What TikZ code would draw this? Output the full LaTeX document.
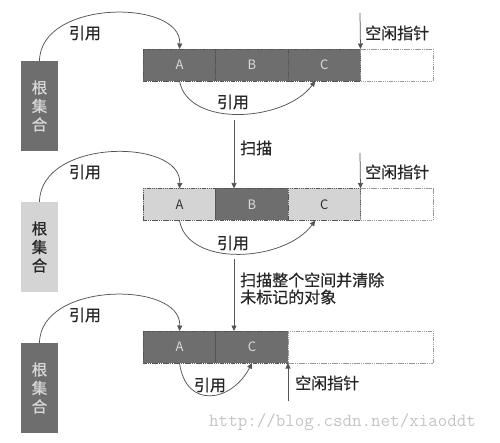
\documentclass[tikz,border=0pt]{standalone}
\usepackage{fontspec}
\setmainfont{Noto Sans CJK SC}
\newfontfamily\lblfont[FakeBold=0.6]{Noto Sans CJK SC}
\usetikzlibrary{arrows.meta,calc}
\definecolor{darkcell}{HTML}{6E6E6E}
\definecolor{lightcell}{HTML}{D4D4D4}
\definecolor{linegray}{HTML}{555555}
\definecolor{wmgray}{HTML}{C4C4C4}
\begin{document}
\begin{tikzpicture}[x=1pt,y=-1pt,
  cell/.style={draw=linegray, line width=0.6pt, dash pattern=on 1.5pt off 0.7pt,
    minimum width=72.5pt, minimum height=32pt, inner sep=0pt, outer sep=0pt,
    font=\fontsize{13}{13}\selectfont},
  darkc/.style={cell, fill=darkcell, text=white!85!black},
  lightc/.style={cell, fill=lightcell, text=black!80},
  emptyc/.style={cell, draw=gray!80, fill=white},
  rootbox/.style={minimum width=37pt, minimum height=90pt, inner sep=0pt, outer sep=0pt,
    align=center, font=\lblfont\fontsize{15.5}{18.5}\selectfont},
  link/.style={draw=linegray, line width=0.75pt, -{Triangle[length=5.5pt,width=5pt]}},
  lbl/.style={font=\lblfont\fontsize{16}{17}\selectfont, text=black!85, inner sep=0pt},
]
\useasboundingbox (0,0) rectangle (500,443);

% ---------- Row 1 ----------
\node[rootbox, fill=darkcell, text=white!85!black] (r1) at (39.5,106) {根\\集\\合};
\node[darkc] (a1) at (179.5,65) {A};
\node[darkc] (b1) at (252,65) {B};
\node[darkc] (c1) at (324.25,65) {C};
\node[emptyc] (e1) at (396.75,65) {};
\draw[link] (r1.north) .. controls (40,-1) and (182,-1) .. (a1.north);
\node[lbl] (l1) at (85,33) {引用};
\draw[link] (a1.south) .. controls (188,128) and (285,122) .. ([xshift=-9pt]c1.south);
\node[lbl] (m1) at (233,102) {引用};
\coordinate (fp1) at (360,13);
\draw[link] (fp1) -- (e1.north west);
\node[lbl, anchor=west] (f1) at (365,33) {空闲指针};

% scan arrow
\coordinate (s1) at (234,120);
\node[lbl, anchor=west] (t1) at (240,148) {扫描};

% ---------- Row 2 ----------
\node[rootbox, fill=lightcell, text=black!85] (r2) at (39.5,247) {根\\集\\合};
\node[lightc] (a2) at (179.5,204.5) {A};
\node[darkc] (b2) at (252,204.5) {B};
\node[lightc] (c2) at (324.25,204.5) {C};
\node[emptyc] (e2) at (396.75,204.5) {};
\draw[link] (s1) -- (s1 |- b2.north);
\draw[link] (r2.north) .. controls (40,138) and (182,138) .. (a2.north);
\node[lbl] (l2) at (85,172) {引用};
\draw[link] (a2.south) .. controls (188,268) and (285,262) .. ([xshift=-9pt]c2.south);
\node[lbl] (m2) at (233,243) {引用};
\coordinate (fp2) at (360,153);
\draw[link] (fp2) -- (e2.north west);
\node[lbl, anchor=west] (f2) at (365,172) {空闲指针};

% sweep arrow
\coordinate (s2) at (234,259);
\node[lbl, anchor=west, align=left] (t2) at (240,288.5) {扫描整个空间并清除\\未标记的对象};

% ---------- Row 3 ----------
\node[rootbox, fill=darkcell, text=white!85!black] (r3) at (39.5,388) {根\\集\\合};
\node[darkc] (a3) at (179.5,347) {A};
\node[darkc] (c3) at (252,347) {C};
\node[emptyc, minimum width=145pt] (e3) at (360.5,347) {};
\draw[link] (s2) -- (s2 |- c3.north);
\draw[link] (r3.north) .. controls (40,281) and (182,281) .. (a3.north);
\node[lbl] (l3) at (85,315) {引用};
\draw[link] (a3.south) .. controls (186,410) and (232,402) .. (c3.south);
\node[lbl] (m3) at (210,385) {引用};
\coordinate (fp3) at (288,401);
\draw[link] (fp3) -- (e3.south west);
\node[lbl, anchor=west] (f3) at (295,383) {空闲指针};

% watermark
\node[anchor=west, inner sep=0pt, text=wmgray, font=\ttfamily\fontsize{18.5}{18.5}\selectfont] (wm) at (209,422) {http://blog.csdn.net/xiaoddt};
\end{tikzpicture}
\end{document}
